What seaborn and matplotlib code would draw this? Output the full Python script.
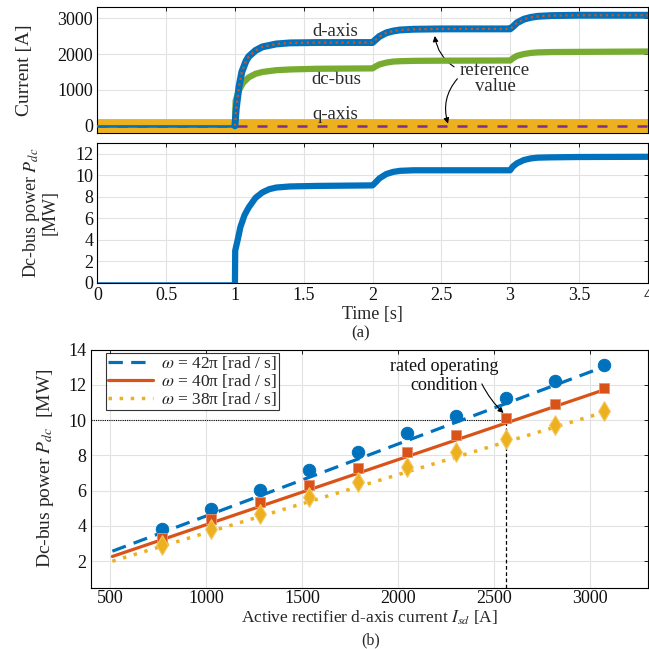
import numpy as np
import pandas as pd
import matplotlib
matplotlib.use("Agg")
import matplotlib.pyplot as plt
import seaborn as sns

# ---------------- (a) top: currents ----------------
t_d = [0, 1.0, 1.01, 1.03, 1.05, 1.08, 1.1, 1.15, 1.2, 1.3, 1.4, 1.6, 2.0, 2.02, 2.05, 2.1,
       2.15, 2.2, 2.3, 2.5, 3.0, 3.02, 3.05, 3.1, 3.15, 3.2, 3.3, 3.5, 4.0]
i_d = [0, 0, 500, 1100, 1500, 1800, 1930, 2100, 2200, 2280, 2310, 2320, 2320, 2390, 2490, 2590,
       2640, 2670, 2690, 2700, 2700, 2760, 2870, 2970, 3020, 3050, 3070, 3080, 3080]
t_dc = [0, 1.0, 1.005, 1.03, 1.06, 1.1, 1.15, 1.2, 1.3, 1.4, 1.6, 2.0, 2.02, 2.05, 2.1, 2.15,
        2.2, 2.3, 2.5, 3.0, 3.02, 3.05, 3.1, 3.15, 3.2, 3.3, 3.5, 4.0]
i_dc = [0, 0, 700, 1000, 1200, 1350, 1450, 1500, 1550, 1570, 1590, 1600, 1650, 1710, 1760, 1790,
        1800, 1810, 1815, 1820, 1880, 1950, 2000, 2030, 2045, 2055, 2060, 2070]
t_q = [0, 4.0]
i_q = [0, 0]
t_qref = [0, 4.0]
i_qref = [0, 0]

# ---------------- (a) bottom: dc power ----------------
t_p = [0, 1.0, 1.002, 1.02, 1.04, 1.07, 1.1, 1.15, 1.2, 1.25, 1.3, 1.4, 1.6, 2.0, 2.02, 2.05,
       2.1, 2.15, 2.2, 2.3, 2.5, 3.0, 3.02, 3.05, 3.1, 3.15, 3.2, 3.3, 3.5, 4.0]
p_dc = [0, 0, 3.0, 4.0, 5.2, 6.3, 7.0, 7.9, 8.4, 8.7, 8.85, 8.95, 9.0, 9.05, 9.3, 9.7,
        10.1, 10.3, 10.4, 10.45, 10.45, 10.45, 10.8, 11.1, 11.4, 11.55, 11.62, 11.65, 11.68, 11.7]

# ---------------- (b) ----------------
isd = [768, 1024, 1280, 1536, 1792, 2048, 2304, 2560, 2816, 3072]
p42 = [3.80, 4.95, 6.05, 7.15, 8.20, 9.25, 10.25, 11.25, 12.20, 13.15]
p40 = [3.33, 4.38, 5.35, 6.35, 7.30, 8.22, 9.15, 10.15, 10.90, 11.80]
p38 = [2.90, 3.85, 4.69, 5.62, 6.50, 7.32, 8.18, 8.95, 9.75, 10.50]
fit_x = [512, 3072]
fit42 = [2.57, 13.03]
fit40 = [2.27, 11.72]
fit38 = [2.00, 10.45]
labels_b = ["$\\omega$ = 42π [rad / s]", "$\\omega$ = 40π [rad / s]", "$\\omega$ = 38π [rad / s]"]
rated_current = 2560
rated_power = 10

BLUE, ORANGE, YELLOW, GREEN, PURPLE = "#0072BD", "#D95319", "#EDB120", "#77AC30", "#7E2F8E"

sns.set_theme(style="whitegrid")
plt.rcParams['font.family'] = ['Liberation Serif', 'DejaVu Serif']
plt.rcParams['mathtext.fontset'] = 'stix'

fig = plt.figure(figsize=(6.49, 6.49), dpi=100)
ax1 = fig.add_axes([0.150, 0.795, 0.848, 0.1937])
ax2 = fig.add_axes([0.150, 0.564, 0.848, 0.216])
ax3 = fig.add_axes([0.140, 0.0945, 0.858, 0.3667])


def style(ax, ls):
    ax.set_facecolor('white')
    for s in ax.spines.values():
        s.set_visible(True)
        s.set_color('black')
        s.set_linewidth(0.8)
    ax.grid(True, color='#e2e2e2', lw=0.8)
    ax.tick_params(direction='in', length=3, width=0.6, color='black', top=True, right=True,
                   labelsize=ls, pad=3, labelcolor='#111111')


def line(ax, x, y, color, lw, dashes=None, z=2):
    sns.lineplot(x=list(x), y=list(y), ax=ax, color=color, lw=lw, estimator=None, sort=False)
    ln = ax.lines[-1]
    ln.set_zorder(z)
    if dashes is not None:
        ln.set_dashes(dashes)
    return ln


# panel 1
df_d = pd.DataFrame({'t': t_d, 'i': i_d})
df_dc = pd.DataFrame({'t': t_dc, 'i': i_dc})
line(ax1, t_q, i_q, YELLOW, 10, z=2)
line(ax1, t_qref, i_qref, PURPLE, 1.8, dashes=(4, 4), z=3)
pre = df_dc[df_dc.t <= 1.0]; post = df_dc[df_dc.t >= 1.0]
line(ax1, pre.t, pre.i, GREEN, 1.5, z=4)
line(ax1, post.t, post.i, GREEN, 4.5, z=4)
pre = df_d[df_d.t <= 1.0]; post = df_d[df_d.t >= 1.0]
line(ax1, pre.t, pre.i, BLUE, 1.8, z=5)
line(ax1, post.t, post.i, BLUE, 5, z=5)
line(ax1, post.t, post.i, ORANGE, 1.6, dashes=(1, 1.6), z=6)
ax1.set_xlim(0, 4)
ax1.set_ylim(-200, 3300)
ax1.set_xticks(np.arange(0, 4.01, 0.5))
ax1.set_yticks([0, 1000, 2000, 3000])
ax1.set_xticklabels([])
style(ax1, 13)
ax1.set_xlabel('')
ax1.set_ylabel('Current [A]', fontsize=14)
ax1.yaxis.set_label_coords(-0.117, 0.5)
tk = dict(fontsize=13.5, ha='center', va='center', color='#2a2a2a')
ax1.text(1.73, 2630, 'd-axis', **tk)
ax1.text(1.74, 1277, 'dc-bus', **tk)
ax1.text(1.73, 318, 'q-axis', **tk)
ax1.text(2.89, 1324, 'reference\nvalue', linespacing=0.9, **tk)
ap = dict(arrowstyle='-|>', color='black', lw=0.8, mutation_scale=8)
ax1.annotate('', xy=(2.45, 2580), xytext=(2.61, 1600),
             arrowprops=dict(**ap, connectionstyle='arc3,rad=-0.25'))
ax1.annotate('', xy=(2.555, -10), xytext=(2.63, 1370),
             arrowprops=dict(**ap, connectionstyle='arc3,rad=0.3'))

# panel 2
df_p = pd.DataFrame({'t': t_p, 'p': p_dc})
pre = df_p[df_p.t <= 1.0]; post = df_p[df_p.t >= 1.0]
line(ax2, pre.t, pre.p, BLUE, 1.8)
line(ax2, post.t, post.p, BLUE, 4.5)
ax2.set_xlim(0, 4)
ax2.set_ylim(0, 13)
ax2.set_xticks(np.arange(0, 4.01, 0.5))
ax2.set_xticklabels(['0', '0.5', '1', '1.5', '2', '2.5', '3', '3.5', '4'])
ax2.set_yticks(range(0, 13, 2))
style(ax2, 13)
ax2.set_xlabel('Time [s]', fontsize=13, labelpad=1)
ax2.set_ylabel('Dc-bus power $P_{dc}$\n[MW]', fontsize=13, linespacing=1.0)
ax2.yaxis.set_label_coords(-0.07, 0.5)
fig.text(0.556, 1 - 333 / 649, '(a)', fontsize=12, ha='center', va='center')

# panel 3
h42 = line(ax3, fit_x, fit42, BLUE, 2.3, dashes=(4.5, 2.6), z=3)
h40 = line(ax3, fit_x, fit40, ORANGE, 2.3, z=3)
h38 = line(ax3, fit_x, fit38, YELLOW, 2.5, dashes=(1, 2.2), z=3)
sns.scatterplot(x=isd, y=p42, ax=ax3, color=BLUE, marker='o', s=80, edgecolor=BLUE, zorder=4)
sns.scatterplot(x=isd, y=p40, ax=ax3, color=ORANGE, marker='s', s=60, edgecolor='#e89070', zorder=4)
sns.scatterplot(x=isd, y=p38, ax=ax3, color=YELLOW, marker='d', s=100, edgecolor='#f3c860', zorder=4)
ax3.plot([400, rated_current], [rated_power, rated_power], color='black', lw=0.8,
         ls=(0, (1, 1)), zorder=2)
ax3.plot([rated_current, rated_current], [0.5, rated_power], color='black', lw=0.9,
         ls=(0, (3, 2)), zorder=2)
ax3.set_xlim(400, 3300)
ax3.set_ylim(0.5, 14)
ax3.set_xticks(range(500, 3001, 500))
ax3.set_yticks(range(2, 15, 2))
style(ax3, 13)
ax3.tick_params(axis='x', pad=2)
ax3.set_xlabel('Active rectifier d-axis current $I_{sd}$ [A]', fontsize=12.5, labelpad=1)
ax3.set_ylabel('Dc-bus power $P_{dc}$  [MW]', fontsize=14)
ax3.yaxis.set_label_coords(-0.063, 0.5)
ax3.text(2240, 12.5, 'rated operating\ncondition', fontsize=13, ha='center', va='center',
         color='#111111', linespacing=1.15)
ax3.annotate('', xy=(2560, 10.3), xytext=(2430, 12.2),
             arrowprops=dict(**ap, connectionstyle='arc3,rad=0.1'))
leg = ax3.legend([h42, h40, h38], labels_b, loc='upper left', bbox_to_anchor=(0.027, 0.988),
                 fontsize=12.5, frameon=True, fancybox=False, edgecolor='black',
                 handlelength=2.6, borderpad=0.1, labelspacing=0.0, handletextpad=0.5,
                 borderaxespad=0)
leg.get_frame().set_linewidth(0.8)
fig.text(0.571, 1 - 640 / 649, '(b)', fontsize=11.5, ha='center', va='center')

fig.savefig('out.png', dpi=100)
